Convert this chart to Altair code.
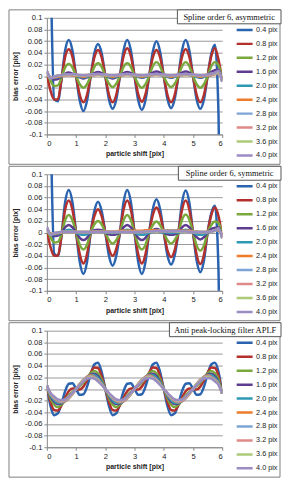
import altair as alt
import pandas as pd

X = [0, 0.125, 0.25, 0.375, 0.5, 0.625, 0.75, 0.875,
     1, 1.125, 1.25, 1.375, 1.5, 1.625, 1.75, 1.875,
     2, 2.125, 2.25, 2.375, 2.5, 2.625, 2.75, 2.875,
     3, 3.125, 3.25, 3.375, 3.5, 3.625, 3.75, 3.875,
     4, 4.125, 4.25, 4.375, 4.5, 4.625, 4.75, 4.875,
     5, 5.125, 5.25, 5.375, 5.5, 5.625, 5.75, 5.875,
     6]

SERIES = ["0.4 pix", "0.8 pix", "1.2 pix", "1.6 pix", "2.0 pix",
          "2.4 pix", "2.8 pix", "3.2 pix", "3.6 pix", "4.0 pix"]
COLORS = ["#2A63B0", "#B3302C", "#79A83D", "#5E3C8F", "#2E98B5",
          "#EE7D2B", "#7EA4D6", "#DE8A88", "#ABCB79", "#9C8CC4"]

TITLES = ["Spline order 6, asymmetric", "Spline order 6, symmetric",
          "Anti peak-locking filter APLF"]

X_TICKS = [0, 1, 2, 3, 4, 5, 6]
Y_TICKS = [-0.1, -0.08, -0.06, -0.04, -0.02, 0, 0.02, 0.04, 0.06, 0.08, 0.1]

# ---------------- panel 1: spline order 6, asymmetric ----------------
A_04 = [0.6, 0.2, -0.040, -0.043, -0.006, 0.044, 0.062, 0.044,
        0, -0.042, -0.060, -0.042, 0, 0.039, 0.055, 0.039,
        0, -0.040, -0.056, -0.040, 0, 0.044, 0.062, 0.044,
        0, -0.041, -0.058, -0.041, 0, 0.042, 0.060, 0.042,
        0, -0.039, -0.055, -0.039, 0, 0.044, 0.062, 0.044,
        0, -0.040, -0.056, -0.040, 0, 0.038, 0.054, -0.07,
        -0.5]
A_08 = [0.003, -0.025, -0.040, -0.040, -0.006, 0.033, 0.046, 0.033,
        0, -0.032, -0.045, -0.032, 0, 0.032, 0.045, 0.032,
        0, -0.032, -0.045, -0.032, 0, 0.034, 0.048, 0.034,
        0, -0.031, -0.044, -0.031, 0, 0.032, 0.045, 0.032,
        0, -0.032, -0.045, -0.032, 0, 0.033, 0.046, 0.033,
        0, -0.032, -0.045, -0.032, 0, 0.034, 0.048, 0.028,
        -0.008]
A_12 = [0.006, -0.008, -0.017, -0.016, -0.003, 0.015, 0.021, 0.015,
        0, -0.014, -0.020, -0.014, 0, 0.016, 0.022, 0.016,
        0, -0.013, -0.019, -0.013, 0, 0.016, 0.022, 0.016,
        0, -0.014, -0.020, -0.014, 0, 0.017, 0.024, 0.017,
        0, -0.013, -0.019, -0.013, 0, 0.017, 0.024, 0.017,
        0, -0.014, -0.020, -0.014, 0, 0.017, 0.024, 0.018,
        -0.004]
A_16 = [0.009, -0.003, -0.006, -0.005, -0.001, 0.004, 0.006, 0.004,
        0.001, -0.002, -0.004, -0.002, 0.001, 0.005, 0.007, 0.005,
        0.001, -0.002, -0.004, -0.002, 0.001, 0.005, 0.007, 0.005,
        0.001, -0.001, -0.003, -0.001, 0.002, 0.006, 0.008, 0.006,
        0.001, -0.001, -0.003, -0.001, 0.002, 0.006, 0.008, 0.006,
        0.001, -0.001, -0.003, -0.001, 0.002, 0.007, 0.010, 0.011,
        -0.008]
A_20 = [0.007, -0.002, -0.003, -0.002, 0, 0.002, 0.003, 0.002,
        0.001, -0.001, -0.002, -0.001, 0.001, 0.002, 0.003, 0.002,
        0.001, -0.001, -0.002, -0.001, 0.001, 0.002, 0.003, 0.002,
        0.001, -0.001, -0.002, -0.001, 0.001, 0.002, 0.003, 0.002,
        0.001, -0.001, -0.002, -0.001, 0.001, 0.002, 0.003, 0.002,
        0.001, -0.001, -0.002, -0.001, 0.001, 0.002, 0.004, 0.006,
        -0.008]
A_24 = [0.006, -0.002, -0.002, -0.001, 0, 0.001, 0.002, 0.001,
        0.001, 0, -0.001, 0, 0.001, 0.002, 0.002, 0.002,
        0.001, 0, -0.001, 0, 0.001, 0.002, 0.002, 0.002,
        0.001, 0, -0.001, 0, 0.001, 0.002, 0.002, 0.002,
        0.001, 0, -0.001, 0, 0.001, 0.002, 0.002, 0.002,
        0.001, 0, -0.001, 0, 0.001, 0.002, 0.003, 0.005,
        -0.008]
A_28 = [0.008, -0.003, -0.001, 0, 0.001, 0.002, 0.002, 0.002,
        0.002, 0.001, 0.001, 0.001, 0.002, 0.002, 0.003, 0.002,
        0.002, 0.001, 0.001, 0.001, 0.002, 0.002, 0.003, 0.002,
        0.002, 0.001, 0.001, 0.001, 0.002, 0.002, 0.003, 0.002,
        0.002, 0.001, 0.001, 0.001, 0.002, 0.002, 0.003, 0.002,
        0.002, 0.001, 0.001, 0.001, 0.002, 0.003, 0.004, 0.006,
        -0.009]
A_32 = [0.008, -0.003, -0.001, 0, 0.001, 0.002, 0.002, 0.002,
        0.002, 0.002, 0.001, 0.002, 0.002, 0.002, 0.003, 0.003,
        0.002, 0.002, 0.001, 0.002, 0.002, 0.002, 0.003, 0.003,
        0.002, 0.002, 0.001, 0.002, 0.002, 0.002, 0.003, 0.003,
        0.002, 0.002, 0.001, 0.002, 0.002, 0.002, 0.003, 0.003,
        0.002, 0.002, 0.001, 0.002, 0.002, 0.003, 0.005, 0.007,
        -0.009]
A_36 = [0.008, -0.004, -0.001, 0.001, 0.002, 0.002, 0.003, 0.003,
        0.002, 0.002, 0.002, 0.002, 0.003, 0.003, 0.003, 0.003,
        0.002, 0.002, 0.002, 0.002, 0.003, 0.003, 0.003, 0.003,
        0.002, 0.002, 0.002, 0.002, 0.003, 0.003, 0.003, 0.003,
        0.002, 0.002, 0.002, 0.002, 0.003, 0.003, 0.003, 0.003,
        0.002, 0.002, 0.002, 0.002, 0.003, 0.004, 0.005, 0.008,
        -0.010]
A_40 = [0.009, -0.004, -0.001, 0.001, 0.002, 0.003, 0.003, 0.003,
        0.003, 0.002, 0.002, 0.002, 0.003, 0.003, 0.004, 0.003,
        0.003, 0.002, 0.002, 0.002, 0.003, 0.003, 0.004, 0.003,
        0.003, 0.002, 0.002, 0.002, 0.003, 0.003, 0.004, 0.003,
        0.003, 0.002, 0.002, 0.002, 0.003, 0.003, 0.004, 0.003,
        0.003, 0.002, 0.002, 0.002, 0.003, 0.004, 0.006, 0.009,
        -0.010]

# ---------------- panel 2: spline order 6, symmetric ----------------
S_04 = [0.6, 0.2, -0.036, -0.040, -0.006, 0.052, 0.073, 0.052,
        0, -0.050, -0.071, -0.050, 0, 0.037, 0.053, 0.037,
        0, -0.040, -0.057, -0.040, 0, 0.052, 0.073, 0.052,
        0, -0.050, -0.071, -0.050, 0, 0.040, 0.057, 0.040,
        0, -0.039, -0.055, -0.039, 0, 0.051, 0.072, 0.051,
        0, -0.048, -0.068, -0.048, 0, 0.033, 0.046, -0.07,
        -0.5]
S_08 = [0.004, -0.025, -0.040, -0.040, -0.006, 0.039, 0.055, 0.039,
        0, -0.037, -0.053, -0.037, 0, 0.028, 0.040, 0.028,
        0, -0.028, -0.040, -0.028, 0, 0.039, 0.055, 0.039,
        0, -0.037, -0.053, -0.037, 0, 0.030, 0.043, 0.030,
        0, -0.030, -0.042, -0.030, 0, 0.039, 0.055, 0.039,
        0, -0.038, -0.054, -0.038, 0, 0.030, 0.043, 0.028,
        -0.008]
S_12 = [0.006, -0.008, -0.017, -0.016, -0.003, 0.021, 0.030, 0.021,
        0, -0.021, -0.029, -0.021, 0, 0.014, 0.020, 0.014,
        0, -0.013, -0.019, -0.013, 0, 0.021, 0.030, 0.021,
        0, -0.021, -0.029, -0.021, 0, 0.013, 0.019, 0.013,
        0, -0.013, -0.019, -0.013, 0, 0.022, 0.031, 0.022,
        0, -0.022, -0.031, -0.022, 0, 0.013, 0.019, 0.016,
        -0.004]
S_16 = [0.009, -0.003, -0.006, -0.005, -0.001, 0.009, 0.013, 0.009,
        0, -0.009, -0.013, -0.009, 0, 0.004, 0.005, 0.004,
        0, -0.003, -0.004, -0.003, 0, 0.009, 0.013, 0.009,
        0, -0.009, -0.013, -0.009, 0, 0.004, 0.006, 0.004,
        0, -0.003, -0.004, -0.003, 0, 0.009, 0.013, 0.009,
        0, -0.008, -0.012, -0.008, 0, 0.006, 0.008, 0.009,
        -0.008]
S_20 = [0.007, -0.002, -0.003, -0.002, 0, 0.003, 0.005, 0.003,
        0, -0.003, -0.004, -0.003, 0, 0.001, 0.002, 0.001,
        0, 0, -0.001, 0, 0, 0.003, 0.005, 0.003,
        0, -0.003, -0.004, -0.003, 0, 0.001, 0.002, 0.001,
        0, 0, -0.001, 0, 0, 0.003, 0.005, 0.003,
        0, -0.003, -0.004, -0.003, 0, 0.002, 0.003, 0.004,
        -0.008]
S_24 = [0.006, -0.002, -0.002, -0.001, 0, 0.001, 0.001, 0.001,
        0.001, 0.001, 0.001, 0.001, 0.001, 0.002, 0.002, 0.002,
        0.002, 0.002, 0.002, 0.002, 0.003, 0.003, 0.003, 0.003,
        0.003, 0.003, 0.003, 0.004, 0.004, 0.004, 0.004, 0.004,
        0.004, 0.004, 0.004, 0.004, 0.004, 0.003, 0.003, 0.003,
        0.002, 0.002, 0.001, 0.001, 0.001, 0.002, 0.003, 0.004,
        -0.008]
S_28 = [0.008, -0.003, -0.001, 0, 0.001, 0.001, 0.001, 0.001,
        0.001, 0.001, 0.001, 0.001, 0.001, 0.001, 0.001, 0.001,
        0.001, 0.001, 0.001, 0.001, 0.001, 0.001, 0.001, 0.001,
        0.001, 0.001, 0.001, 0.001, 0.001, 0.002, 0.002, 0.002,
        0.002, 0.002, 0.002, 0.002, 0.002, 0.001, 0.001, 0.001,
        0.001, 0.001, 0.001, 0.001, 0.001, 0.002, 0.003, 0.005,
        -0.009]
S_32 = [0.008, -0.003, -0.001, 0, 0.001, 0.001, 0.001, 0.001,
        0.001, 0.001, 0.001, 0.001, 0.001, 0.001, 0.001, 0.001,
        0.001, 0.001, 0.001, 0.001, 0.001, 0.001, 0.001, 0.001,
        0.001, 0.001, 0.001, 0.001, 0.002, 0.002, 0.002, 0.002,
        0.002, 0.002, 0.002, 0.002, 0.002, 0.002, 0.001, 0.001,
        0.001, 0.001, 0.001, 0.001, 0.001, 0.002, 0.004, 0.006,
        -0.009]
S_36 = [0.008, -0.004, -0.001, 0, 0.001, 0.001, 0.001, 0.001,
        0.001, 0.001, 0.001, 0.001, 0.001, 0.001, 0.001, 0.001,
        0.001, 0.001, 0.001, 0.001, 0.001, 0.001, 0.001, 0.001,
        0.001, 0.001, 0.001, 0.002, 0.002, 0.002, 0.002, 0.003,
        0.003, 0.003, 0.003, 0.003, 0.002, 0.002, 0.001, 0.001,
        0.001, 0.001, 0.001, 0.001, 0.001, 0.002, 0.004, 0.007,
        -0.010]
S_40 = [0.009, -0.004, -0.001, 0, 0.001, 0.001, 0.001, 0.001,
        0.001, 0.001, 0.001, 0.001, 0.001, 0.001, 0.001, 0.001,
        0.001, 0.001, 0.001, 0.001, 0.001, 0.001, 0.001, 0.001,
        0.001, 0.001, 0.001, 0.002, 0.002, 0.002, 0.003, 0.003,
        0.003, 0.003, 0.003, 0.003, 0.003, 0.002, 0.002, 0.001,
        0.001, 0.001, 0.001, 0.001, 0.001, 0.002, 0.004, 0.007,
        -0.010]

# ---------------- panel 3: anti peak-locking filter ----------------
F_04 = [0.006, -0.029, -0.045, -0.042, -0.025, -0.004, 0.009, 0.010,
        0, -0.010, -0.009, 0.004, 0.025, 0.042, 0.045, 0.029,
        0, -0.029, -0.045, -0.042, -0.025, -0.004, 0.009, 0.010,
        0, -0.010, -0.009, 0.004, 0.025, 0.042, 0.045, 0.029,
        0, -0.029, -0.045, -0.042, -0.025, -0.004, 0.009, 0.010,
        0, -0.010, -0.009, 0.004, 0.025, 0.042, 0.045, 0.029,
        -0.008]
F_08 = [0.006, -0.022, -0.036, -0.037, -0.028, -0.015, -0.004, 0.001,
        0, -0.001, 0.004, 0.015, 0.028, 0.037, 0.036, 0.022,
        0, -0.022, -0.036, -0.037, -0.028, -0.015, -0.004, 0.001,
        0, -0.001, 0.004, 0.015, 0.028, 0.037, 0.036, 0.022,
        0, -0.022, -0.036, -0.037, -0.028, -0.015, -0.004, 0.001,
        0, -0.001, 0.004, 0.015, 0.028, 0.037, 0.036, 0.022,
        -0.008]
F_12 = [0.006, -0.016, -0.027, -0.031, -0.027, -0.019, -0.011, -0.005,
        0, 0.005, 0.011, 0.019, 0.027, 0.031, 0.027, 0.016,
        0, -0.016, -0.027, -0.031, -0.027, -0.019, -0.011, -0.005,
        0, 0.005, 0.011, 0.019, 0.027, 0.031, 0.027, 0.016,
        0, -0.016, -0.027, -0.031, -0.027, -0.019, -0.011, -0.005,
        0, 0.005, 0.011, 0.019, 0.027, 0.031, 0.027, 0.016,
        -0.008]
F_16 = [0.006, -0.012, -0.022, -0.026, -0.025, -0.020, -0.014, -0.007,
        0, 0.007, 0.014, 0.020, 0.025, 0.026, 0.022, 0.012,
        0, -0.012, -0.022, -0.026, -0.025, -0.020, -0.014, -0.007,
        0, 0.007, 0.014, 0.020, 0.025, 0.026, 0.022, 0.012,
        0, -0.012, -0.022, -0.026, -0.025, -0.020, -0.014, -0.007,
        0, 0.007, 0.014, 0.020, 0.025, 0.026, 0.022, 0.012,
        -0.008]
F_20 = [0.006, -0.011, -0.019, -0.024, -0.024, -0.021, -0.015, -0.008,
        0, 0.008, 0.015, 0.021, 0.024, 0.024, 0.019, 0.011,
        0, -0.011, -0.019, -0.024, -0.024, -0.021, -0.015, -0.008,
        0, 0.008, 0.015, 0.021, 0.024, 0.024, 0.019, 0.011,
        0, -0.011, -0.019, -0.024, -0.024, -0.021, -0.015, -0.008,
        0, 0.008, 0.015, 0.021, 0.024, 0.024, 0.019, 0.011,
        -0.008]
F_24 = [0.006, -0.009, -0.016, -0.021, -0.023, -0.021, -0.016, -0.009,
        0, 0.009, 0.016, 0.021, 0.023, 0.021, 0.016, 0.009,
        0, -0.009, -0.016, -0.021, -0.023, -0.021, -0.016, -0.009,
        0, 0.009, 0.016, 0.021, 0.023, 0.021, 0.016, 0.009,
        0, -0.009, -0.016, -0.021, -0.023, -0.021, -0.016, -0.009,
        0, 0.009, 0.016, 0.021, 0.023, 0.021, 0.016, 0.009,
        -0.008]
F_28 = [0.006, -0.008, -0.016, -0.020, -0.022, -0.020, -0.016, -0.008,
        0, 0.008, 0.016, 0.020, 0.022, 0.020, 0.016, 0.008,
        0, -0.008, -0.016, -0.020, -0.022, -0.020, -0.016, -0.008,
        0, 0.008, 0.016, 0.020, 0.022, 0.020, 0.016, 0.008,
        0, -0.008, -0.016, -0.020, -0.022, -0.020, -0.016, -0.008,
        0, 0.008, 0.016, 0.020, 0.022, 0.020, 0.016, 0.008,
        -0.008]
F_32 = [0.006, -0.008, -0.015, -0.019, -0.021, -0.019, -0.015, -0.008,
        0, 0.008, 0.015, 0.019, 0.021, 0.019, 0.015, 0.008,
        0, -0.008, -0.015, -0.019, -0.021, -0.019, -0.015, -0.008,
        0, 0.008, 0.015, 0.019, 0.021, 0.019, 0.015, 0.008,
        0, -0.008, -0.015, -0.019, -0.021, -0.019, -0.015, -0.008,
        0, 0.008, 0.015, 0.019, 0.021, 0.019, 0.015, 0.008,
        -0.008]
F_36 = [0.006, -0.008, -0.014, -0.018, -0.020, -0.018, -0.014, -0.008,
        0, 0.008, 0.014, 0.018, 0.020, 0.018, 0.014, 0.008,
        0, -0.008, -0.014, -0.018, -0.020, -0.018, -0.014, -0.008,
        0, 0.008, 0.014, 0.018, 0.020, 0.018, 0.014, 0.008,
        0, -0.008, -0.014, -0.018, -0.020, -0.018, -0.014, -0.008,
        0, 0.008, 0.014, 0.018, 0.020, 0.018, 0.014, 0.008,
        -0.008]
F_40 = [0.006, -0.007, -0.013, -0.018, -0.019, -0.018, -0.013, -0.007,
        0, 0.007, 0.013, 0.018, 0.019, 0.018, 0.013, 0.007,
        0, -0.007, -0.013, -0.018, -0.019, -0.018, -0.013, -0.007,
        0, 0.007, 0.013, 0.018, 0.019, 0.018, 0.013, 0.007,
        0, -0.007, -0.013, -0.018, -0.019, -0.018, -0.013, -0.007,
        0, 0.007, 0.013, 0.018, 0.019, 0.018, 0.013, 0.007,
        -0.008]

PANELS = [
    [A_04, A_08, A_12, A_16, A_20, A_24, A_28, A_32, A_36, A_40],
    [S_04, S_08, S_12, S_16, S_20, S_24, S_28, S_32, S_36, S_40],
    [F_04, F_08, F_12, F_16, F_20, F_24, F_28, F_32, F_36, F_40],
]
BOX_LEFT = [131, 132, 123]

W, H = 176, 117
BORDER_R = 234
BOX_R = 235
LAB_FONT = "Liberation Sans"
one = pd.DataFrame({"k": [0]})

y_label = "datum.value < 0 ? '-' + format(-datum.value, '.2~f') : format(datum.value, '.2~f')"


def panel(series_values, title, box_left):
    rows = []
    for name, vals in zip(SERIES, series_values):
        for xv, yv in zip(X, vals):
            rows.append({"x": xv, "y": yv, "s": name})
    df = pd.DataFrame(rows)

    lines = alt.Chart(df).mark_line(
        strokeWidth=2.5, clip=True, interpolate="monotone"
    ).encode(
        x=alt.X("x:Q", scale=alt.Scale(domain=[0, 6], nice=False, zero=False),
                axis=alt.Axis(values=X_TICKS, format="d", grid=False,
                              tickSize=3, tickColor="#888", domainColor="#888",
                              labelFontSize=7.6, labelPadding=2, labelColor="#222",
                              labelFont=LAB_FONT,
                              title="particle shift [pix]", titleFont=LAB_FONT,
                              titleFontSize=7, titleFontWeight="bold", titleColor="#222",
                              titleX=W / 2, titleY=19.5, titleAlign="center",
                              titleBaseline="middle")),
        y=alt.Y("y:Q", scale=alt.Scale(domain=[-0.1, 0.1], nice=False, zero=False),
                axis=alt.Axis(values=Y_TICKS, labelExpr=y_label, grid=True,
                              gridColor="#9a9a9a", gridWidth=1,
                              tickSize=3, tickColor="#888", domainColor="#888",
                              labelFontSize=7.6, labelPadding=2, labelColor="#222",
                              labelFont=LAB_FONT,
                              title="bias error [pix]", titleFont=LAB_FONT,
                              titleFontSize=7, titleFontWeight="bold", titleColor="#222",
                              titleAngle=270, titleX=-31, titleY=H / 2,
                              titleAlign="center", titleBaseline="middle")),
        color=alt.Color("s:N", scale=alt.Scale(domain=SERIES, range=COLORS),
                        legend=alt.Legend(title=None, orient="none", legendX=189,
                                          legendY=5.5, symbolType="stroke",
                                          symbolSize=256, symbolStrokeWidth=2.5,
                                          clipHeight=13.3, rowPadding=0, padding=0,
                                          labelFontSize=7.3, labelFont=LAB_FONT,
                                          labelColor="#222", labelOffset=2)),
    )

    border = alt.Chart(one).mark_rect(
        fill="white", fillOpacity=0, stroke="#808080", strokeWidth=1
    ).encode(x=alt.value(-38), x2=alt.value(BORDER_R), y=alt.value(-8), y2=alt.value(H + 30))

    box = alt.Chart(one).mark_rect(
        fill="white", stroke="#555", strokeWidth=1
    ).encode(x=alt.value(box_left), x2=alt.value(BOX_R), y=alt.value(-8), y2=alt.value(6))

    text = alt.Chart(one).mark_text(
        text=title, font="Liberation Serif", fontSize=8.5, color="#111",
        align="center", baseline="middle"
    ).encode(x=alt.value((box_left + BOX_R) / 2), y=alt.value(-1))

    return alt.layer(lines, border, box, text).properties(width=W, height=H)


chart = alt.vconcat(
    *[panel(PANELS[i], TITLES[i], BOX_LEFT[i]) for i in range(3)],
    spacing=0
).resolve_scale(color="independent").resolve_legend(color="independent").properties(
    padding={"left": 0, "top": 0, "right": 0, "bottom": 0}, background="white"
).configure_view(stroke=None)

chart.save("out.html", embed_options={"renderer": "svg", "actions": False})
